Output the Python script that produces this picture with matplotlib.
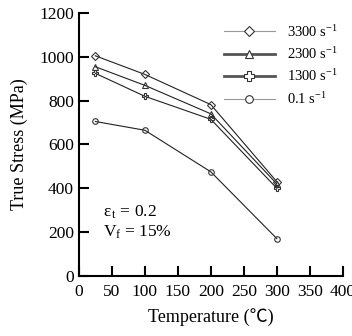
import matplotlib
matplotlib.use("Agg")
import matplotlib.pyplot as plt
from matplotlib.lines import Line2D

temps = [25, 100, 200, 300]
s3300 = [1005, 920, 782, 430]
s2300 = [955, 870, 740, 420]
s1300 = [925, 820, 715, 400]
s01 = [705, 665, 475, 170]
labels = ["3300 s$^{-1}$", "2300 s$^{-1}$", "1300 s$^{-1}$", "0.1 s$^{-1}$"]

plt.rcParams['font.family'] = ['Liberation Serif', 'Noto Sans CJK SC', 'DejaVu Sans']
plt.rcParams['mathtext.fontset'] = 'custom'
plt.rcParams['mathtext.rm'] = 'Liberation Serif'
plt.rcParams['mathtext.it'] = 'Liberation Serif'

fig = plt.figure(figsize=(3.52, 3.36), dpi=100)
ax = fig.add_axes([0.224, 0.179, 0.75, 0.782])

series = [s3300, s2300, s1300, s01]
markers = ['D', '^', 'P', 'o']
msizes = [4, 4.5, 5, 4]
for ys, m, ms in zip(series, markers, msizes):
    ax.plot(temps, ys, color='#222222', lw=0.8, marker=m, ms=ms,
            mfc='none', mec='#333333', mew=0.8)

handles = [
    Line2D([], [], color='#999999', lw=0.8, marker='D', ms=5, mfc='white', mec='#333333', mew=0.8),
    Line2D([], [], color='#555555', lw=2.0, marker='^', ms=6, mfc='white', mec='#333333', mew=0.8),
    Line2D([], [], color='#555555', lw=2.0, marker='P', ms=6.5, mfc='white', mec='#333333', mew=0.8),
    Line2D([], [], color='#999999', lw=0.8, marker='o', ms=5.5, mfc='white', mec='#333333', mew=0.8),
]
ax.legend(handles, labels, loc='upper right', bbox_to_anchor=(1.03, 1.01), frameon=False,
          fontsize=10.5, handlelength=3.5, labelspacing=0.45, handletextpad=0.8)

ax.set_xlim(0, 400)
ax.set_ylim(0, 1200)
ax.set_xticks(range(0, 401, 50))
ax.set_yticks(range(0, 1201, 200))
ax.spines['top'].set_visible(False)
ax.spines['right'].set_visible(False)
ax.spines['left'].set_linewidth(1.5)
ax.spines['bottom'].set_linewidth(1.5)
ax.tick_params(direction='in', length=7, width=1.5, labelsize=12.5)
ax.tick_params(axis='x', pad=6)
ax.set_xlabel("Temperature (℃)", fontsize=13, labelpad=6)
ax.set_ylabel("True Stress (MPa)", fontsize=13, labelpad=8)

ax.text(36, 290, r"$\varepsilon_{\,\mathrm{t}}$ = 0.2", fontsize=12.5, va='center')
ax.text(36, 200, r"V$_{\mathrm{f}}$ = 15%", fontsize=12.5, va='center')

fig.savefig("out.png", dpi=100)
